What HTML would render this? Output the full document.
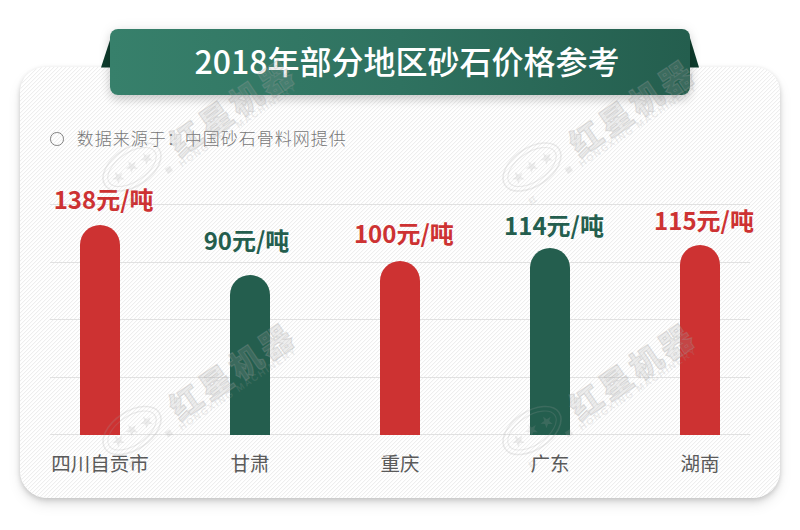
<!DOCTYPE html>
<html><head><meta charset="utf-8">
<style>
html,body{margin:0;padding:0;background:#fff;width:800px;height:530px;overflow:hidden;}
body{position:relative;font-family:"Liberation Sans","Noto Sans CJK SC",sans-serif;}
.cjk{font-family:"Noto Sans CJK SC","Liberation Sans",sans-serif;}
#card{position:absolute;left:20px;top:67px;width:760px;height:431px;border-radius:25px 25px 27px 27px;
  background-color:#fff;
  overflow:hidden;
  box-shadow:0 1px 4px rgba(0,0,0,0.10),0 4px 6px rgba(0,0,0,0.10),0 7px 14px rgba(0,0,0,0.08);}
#banner{position:absolute;left:110px;top:29px;width:580px;height:66px;border-radius:8px;
  background:linear-gradient(90deg,#37806b 0%,#2f7260 50%,#245e4e 100%);
  box-shadow:0 5px 10px rgba(0,0,0,0.16),0 0 14px rgba(0,0,0,0.07);}
#title{position:absolute;left:117px;top:27px;width:580px;height:66px;line-height:66px;text-align:center;
  color:#fff;font-size:32px;font-weight:500;}
.fold{position:absolute;}
.grid{position:absolute;left:50px;width:700px;height:1px;background:#e1e1e1;}
.bar{position:absolute;width:40px;border-radius:20px 20px 0 0;}
.red{background:#cd3232;}
.grn{background:#245e4e;}
.price{position:absolute;width:150px;text-align:center;font-size:24px;font-weight:700;line-height:30px;}
.pr{color:#cd3232;}
.pg{color:#245e4e;}
.cat{position:absolute;width:150px;text-align:center;font-size:19.5px;color:#5a5a5a;line-height:24px;top:451px;}
#src{position:absolute;left:76.7px;top:125.5px;font-size:17px;letter-spacing:1px;font-weight:300;color:#777;line-height:24px;}
#circ{position:absolute;left:50px;top:132px;width:11.6px;height:11.6px;border:1.2px solid #808080;border-radius:50%;}
</style></head>
<body>
<div id="card"><svg width="760" height="431" style="display:block"><defs><pattern id="st" width="4" height="4" patternUnits="userSpaceOnUse"><g shape-rendering="crispEdges"><g fill="#eeeeee"><rect x="1" y="0" width="1" height="1"/><rect x="0" y="1" width="1" height="1"/><rect x="3" y="2" width="1" height="1"/><rect x="2" y="3" width="1" height="1"/></g><g fill="#fbfbfb"><rect x="2" y="0" width="1" height="1"/><rect x="1" y="1" width="1" height="1"/><rect x="0" y="2" width="1" height="1"/><rect x="3" y="3" width="1" height="1"/></g></g></pattern></defs><rect width="760" height="431" fill="url(#st)"/></svg></div>
<svg class="fold" style="left:0;top:0" width="800" height="100">
  <polygon points="110,40 101,67.5 110,67.5" fill="#0f3d2e"/>
  <polygon points="690,38 699,67.5 690,67.5" fill="#0f3d2e"/>
</svg>
<div id="banner"></div>
<div id="title" class="cjk">2018年部分地区砂石价格参考</div>

<div id="circ"></div>
<div id="src" class="cjk">数据来源于：中国砂石骨料网提供</div>

<div class="grid" style="top:204px"></div>
<div class="grid" style="top:262px"></div>
<div class="grid" style="top:319px"></div>
<div class="grid" style="top:377px"></div>
<div class="grid" style="top:434px"></div>

<div class="bar red" style="left:80px;top:225px;height:210px"></div>
<div class="bar grn" style="left:230px;top:275px;height:160px"></div>
<div class="bar red" style="left:380px;top:261px;height:174px"></div>
<div class="bar grn" style="left:530px;top:248px;height:187px"></div>
<div class="bar red" style="left:680px;top:245px;height:190px"></div>

<div class="price pr cjk" style="left:28.6px;top:184px">138元/吨</div>
<div class="price pg cjk" style="left:171.5px;top:225px">90元/吨</div>
<div class="price pr cjk" style="left:328.8px;top:218px">100元/吨</div>
<div class="price pg cjk" style="left:479px;top:210px">114元/吨</div>
<div class="price pr cjk" style="left:629px;top:205px">115元/吨</div>

<div class="cat cjk" style="left:25px">四川自贡市</div>
<div class="cat cjk" style="left:175px">甘肃</div>
<div class="cat cjk" style="left:325px">重庆</div>
<div class="cat cjk" style="left:475px">广东</div>
<div class="cat cjk" style="left:625px">湖南</div>
<svg id="wm" width="800" height="530" style="position:absolute;left:0;top:0;pointer-events:none"><g fill="#a0a0a0" fill-opacity="0.19" stroke="#a0a0a0" stroke-opacity="0.2" font-family="Liberation Sans, Noto Sans CJK SC, sans-serif"><g transform="translate(132,167) rotate(-34)"><ellipse cx="0" cy="0" rx="32.5" ry="19" fill="none" stroke-width="1.6"/><ellipse cx="0" cy="0" rx="27.5" ry="14.5" fill="none" stroke-width="1.1"/><polygon points="-17.0,-5.5 -18.5,-1.1 -23.2,-1.0 -19.5,1.8 -20.8,6.3 -17.0,3.6 -13.2,6.3 -14.5,1.8 -10.8,-1.0 -15.5,-1.1" stroke="none"/><polygon points="0.0,-7.0 -1.5,-2.6 -6.2,-2.5 -2.5,0.3 -3.8,4.8 -0.0,2.1 3.8,4.8 2.5,0.3 6.2,-2.5 1.5,-2.6" stroke="none"/><polygon points="17.0,-5.5 15.5,-1.1 10.8,-1.0 14.5,1.8 13.2,6.3 17.0,3.6 20.8,6.3 19.5,1.8 23.2,-1.0 18.5,-1.1" stroke="none"/><rect x="26" y="20" width="6" height="6" stroke="none"/><text x="-22" y="31" font-size="8" font-weight="900" stroke="none">红</text><text x="44.5" y="19" font-size="32" font-weight="900" letter-spacing="4" stroke-width="1.2" stroke-opacity="0.28">红星机器</text><text x="41" y="28" font-size="9.5" font-weight="700" letter-spacing="1.6" stroke="none" font-family="Liberation Sans,sans-serif">HONGXING MACHINERY</text></g><g transform="translate(532,167) rotate(-34)"><ellipse cx="0" cy="0" rx="32.5" ry="19" fill="none" stroke-width="1.6"/><ellipse cx="0" cy="0" rx="27.5" ry="14.5" fill="none" stroke-width="1.1"/><polygon points="-17.0,-5.5 -18.5,-1.1 -23.2,-1.0 -19.5,1.8 -20.8,6.3 -17.0,3.6 -13.2,6.3 -14.5,1.8 -10.8,-1.0 -15.5,-1.1" stroke="none"/><polygon points="0.0,-7.0 -1.5,-2.6 -6.2,-2.5 -2.5,0.3 -3.8,4.8 -0.0,2.1 3.8,4.8 2.5,0.3 6.2,-2.5 1.5,-2.6" stroke="none"/><polygon points="17.0,-5.5 15.5,-1.1 10.8,-1.0 14.5,1.8 13.2,6.3 17.0,3.6 20.8,6.3 19.5,1.8 23.2,-1.0 18.5,-1.1" stroke="none"/><rect x="26" y="20" width="6" height="6" stroke="none"/><text x="-22" y="31" font-size="8" font-weight="900" stroke="none">红</text><text x="44.5" y="19" font-size="32" font-weight="900" letter-spacing="4" stroke-width="1.2" stroke-opacity="0.28">红星机器</text><text x="41" y="28" font-size="9.5" font-weight="700" letter-spacing="1.6" stroke="none" font-family="Liberation Sans,sans-serif">HONGXING MACHINERY</text></g><g transform="translate(132,430.5) rotate(-34)"><ellipse cx="0" cy="0" rx="32.5" ry="19" fill="none" stroke-width="1.6"/><ellipse cx="0" cy="0" rx="27.5" ry="14.5" fill="none" stroke-width="1.1"/><polygon points="-17.0,-5.5 -18.5,-1.1 -23.2,-1.0 -19.5,1.8 -20.8,6.3 -17.0,3.6 -13.2,6.3 -14.5,1.8 -10.8,-1.0 -15.5,-1.1" stroke="none"/><polygon points="0.0,-7.0 -1.5,-2.6 -6.2,-2.5 -2.5,0.3 -3.8,4.8 -0.0,2.1 3.8,4.8 2.5,0.3 6.2,-2.5 1.5,-2.6" stroke="none"/><polygon points="17.0,-5.5 15.5,-1.1 10.8,-1.0 14.5,1.8 13.2,6.3 17.0,3.6 20.8,6.3 19.5,1.8 23.2,-1.0 18.5,-1.1" stroke="none"/><rect x="26" y="20" width="6" height="6" stroke="none"/><text x="-22" y="31" font-size="8" font-weight="900" stroke="none">红</text><text x="44.5" y="19" font-size="32" font-weight="900" letter-spacing="4" stroke-width="1.2" stroke-opacity="0.28">红星机器</text><text x="41" y="28" font-size="9.5" font-weight="700" letter-spacing="1.6" stroke="none" font-family="Liberation Sans,sans-serif">HONGXING MACHINERY</text></g><g transform="translate(532,430.5) rotate(-34)"><ellipse cx="0" cy="0" rx="32.5" ry="19" fill="none" stroke-width="1.6"/><ellipse cx="0" cy="0" rx="27.5" ry="14.5" fill="none" stroke-width="1.1"/><polygon points="-17.0,-5.5 -18.5,-1.1 -23.2,-1.0 -19.5,1.8 -20.8,6.3 -17.0,3.6 -13.2,6.3 -14.5,1.8 -10.8,-1.0 -15.5,-1.1" stroke="none"/><polygon points="0.0,-7.0 -1.5,-2.6 -6.2,-2.5 -2.5,0.3 -3.8,4.8 -0.0,2.1 3.8,4.8 2.5,0.3 6.2,-2.5 1.5,-2.6" stroke="none"/><polygon points="17.0,-5.5 15.5,-1.1 10.8,-1.0 14.5,1.8 13.2,6.3 17.0,3.6 20.8,6.3 19.5,1.8 23.2,-1.0 18.5,-1.1" stroke="none"/><rect x="26" y="20" width="6" height="6" stroke="none"/><text x="-22" y="31" font-size="8" font-weight="900" stroke="none">红</text><text x="44.5" y="19" font-size="32" font-weight="900" letter-spacing="4" stroke-width="1.2" stroke-opacity="0.28">红星机器</text><text x="41" y="28" font-size="9.5" font-weight="700" letter-spacing="1.6" stroke="none" font-family="Liberation Sans,sans-serif">HONGXING MACHINERY</text></g></g></svg>
</body></html>
